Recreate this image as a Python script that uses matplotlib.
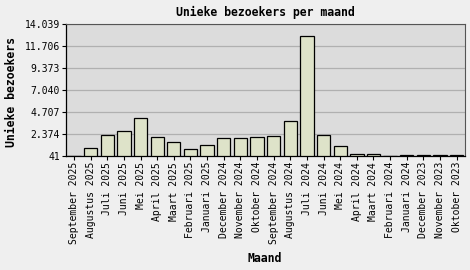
"""Unieke bezoekers per maand - staafdiagram."""
import matplotlib
matplotlib.use("Agg")
import matplotlib.pyplot as plt
import numpy as np

maanden = [
    "September 2025", "Augustus 2025", "Juli 2025", "Juni 2025", "Mei 2025",
    "April 2025", "Maart 2025", "Februari 2025", "Januari 2025",
    "December 2024", "November 2024", "Oktober 2024", "September 2024",
    "Augustus 2024", "Juli 2024", "Juni 2024", "Mei 2024", "April 2024",
    "Maart 2024", "Februari 2024", "Januari 2024", "December 2023",
    "November 2023", "Oktober 2023",
]
bezoekers = [
    41, 925, 2303, 2728, 4106, 2091, 1526, 819, 1243, 1985, 1950, 2091,
    2197, 3753, 12802, 2303, 1137, 253, 253, 41, 147, 147, 147, 147,
]
y_ticks = [41, 2374, 4707, 7040, 9373, 11706, 14039]
y_labels = ["41", "2.374", "4.707", "7.040", "9.373", "11.706", "14.039"]

plt.rcParams["font.family"] = ["DejaVu Sans Mono"]

fig = plt.figure(figsize=(4.7, 2.7), dpi=100, facecolor="#efefef")
ax = fig.add_axes([65.7 / 470, 1 - 156.3 / 270, 399.3 / 470, 132 / 270])
ax.set_facecolor("#dcdcdc")

x = np.arange(len(maanden))
base = y_ticks[0]
heights = [v - base for v in bezoekers]
ax.bar(x, heights, bottom=base, width=0.8, color="#dee3c9",
       edgecolor="black", linewidth=0.9, zorder=3)

ax.set_xlim(-0.5, len(maanden) - 0.5)
ax.set_ylim(y_ticks[0], y_ticks[-1])
ax.set_yticks(y_ticks)
ax.set_yticklabels(y_labels, fontsize=7)
ax.set_xticks(x)
ax.set_xticklabels(maanden, rotation=90, fontsize=7)
ax.tick_params(axis="both", length=3, width=0.8, pad=1, colors="black")
ax.grid(axis="y", color="#b0b0b0", linewidth=0.9, zorder=0)

for side in ["top", "right"]:
    ax.spines[side].set_color("#555555")
    ax.spines[side].set_linewidth(0.8)
for side in ["left", "bottom"]:
    ax.spines[side].set_color("black")
    ax.spines[side].set_linewidth(0.9)

fig.text(265 / 470, 1 - 12 / 270, "Unieke bezoekers per maand",
         ha="center", va="center", fontsize=8.3, fontweight="bold")
fig.text(12 / 470, 1 - 92 / 270, "Unieke bezoekers", rotation=90,
         ha="center", va="center", fontsize=8.3, fontweight="bold")
fig.text(265 / 470, 1 - 259 / 270, "Maand",
         ha="center", va="center", fontsize=8.3, fontweight="bold")

fig.savefig("out.png", dpi=100, facecolor=fig.get_facecolor())
